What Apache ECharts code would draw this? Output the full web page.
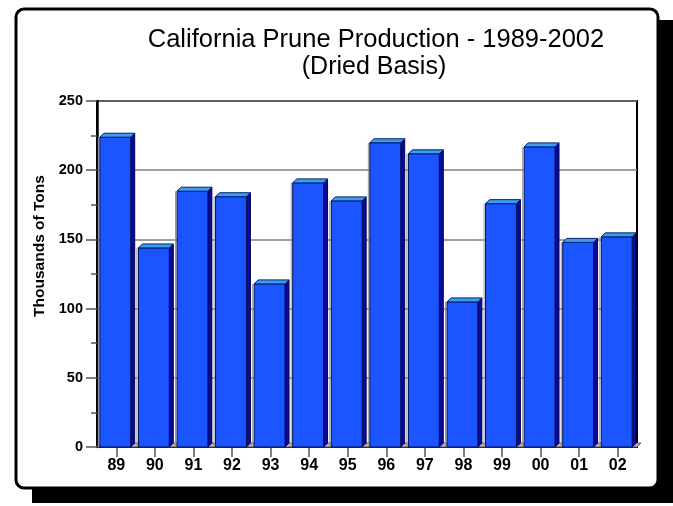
<!DOCTYPE html>
<html><head><meta charset="utf-8">
<script src="https://cdn.jsdelivr.net/npm/echarts@6/dist/echarts.min.js"></script>
<style>html,body{margin:0;padding:0;background:#fff}#c{width:673px;height:506px}</style>
</head><body><div id="c"></div>
<script>
const categories = ['89','90','91','92','93','94','95','96','97','98','99','00','01','02'];
const production = [226,146,187,183,120,193,180,222,214,107,178,219,150,154];
const yTicks = [0,50,100,150,200,250];

const chart = echarts.init(document.getElementById('c'), null, {renderer:'canvas'});
const D = 4;
function renderBar(params, api){
  const i = api.value(0), v = api.value(1);
  const top = api.coord([i, v]);
  const base = api.coord([i, 0]);
  const band = api.size([1, 0])[0];
  const w = band * 0.8;
  const x0 = top[0] - w/2 - 1, x1 = x0 + w;
  const yt = top[1] + 3, yb = base[1];
  return {type:'group', children:[
    {type:'line', shape:{x1:x0-1.5, y1:yb-1, x2:x0-1.5, y2:yt}, style:{stroke:'#9a9a9a', lineWidth:1}},
    {type:'polygon', shape:{points:[[x1,yb],[x1+D,yb-D],[x1+D,yt-D],[x1,yt]]},
      style:{fill:'#0a0a9a', stroke:'#000050', lineWidth:1}},
    {type:'rect', shape:{x:x0, y:yt, width:w, height:yb-yt},
      style:{fill:'#1a55ff', stroke:'#00105a', lineWidth:1}},
    {type:'polygon', shape:{points:[[x0,yt],[x0+D,yt-D],[x1+D,yt-D],[x1,yt]]},
      style:{fill:'#3a9cf5', stroke:'#00206a', lineWidth:1}}
  ]};
}
function renderFloor(params, api){
  const a = api.coord([0,0]);
  const band = api.size([1,0])[0];
  const xl = a[0] - band/2, xr = xl + band*categories.length;
  const y = a[1];
  return {type:'polygon', shape:{points:[[xl,y],[xr,y],[xr+D,y-D],[xl+D,y-D]]},
    style:{fill:'#b0b0b0', stroke:'#606060', lineWidth:1}, z2:0};
}
const option = {
  animation:false,
  backgroundColor:'#fff',
  graphic:[
    {type:'rect', shape:{x:32,y:20,width:641,height:483}, style:{fill:'#000'}, z:-10},
    {type:'rect', shape:{x:16,y:9,width:642,height:479,r:8}, style:{fill:'#fff', stroke:'#000', lineWidth:3}, z:-9},
    {type:'text', x:40, y:246, rotation:Math.PI/2, z:5,
     style:{text:'Thousands of Tons', fontFamily:'Liberation Sans, Arial', fontSize:15.5, fontWeight:'bold',
       fill:'#000', align:'center', verticalAlign:'middle'}}
  ],
  title:[
    {text:'California Prune Production - 1989-2002', left:371, top:22, textAlign:'center',
     textStyle:{fontFamily:'Liberation Sans, Arial', fontSize:25.5, fontWeight:'normal', color:'#000'}},
    {text:'(Dried Basis)', left:369, top:50, textAlign:'center',
     textStyle:{fontFamily:'Liberation Sans, Arial', fontSize:25, fontWeight:'normal', color:'#000'}}
  ],
  grid:{left:97, right:36, top:101, bottom:59, show:true, borderColor:'#000', borderWidth:2, backgroundColor:'transparent'},
  xAxis:{type:'category', data:categories,
    axisLine:{lineStyle:{color:'#000', width:2}},
    axisTick:{show:true, alignWithLabel:true, length:10, lineStyle:{color:'#555', width:1.5}},
    axisLabel:{fontFamily:'Liberation Sans, Arial', fontSize:16, fontWeight:'bold', color:'#000', margin:11},
    splitLine:{show:false}},
  yAxis:{type:'value', min:0, max:250, interval:50,
    axisLine:{show:true, lineStyle:{color:'#000', width:2.5}},
    axisTick:{show:true, length:11, lineStyle:{color:'#555', width:1.5}},
    minorTick:{show:true, splitNumber:2, length:6, lineStyle:{color:'#555', width:1.5}},
    axisLabel:{fontFamily:'Liberation Sans, Arial', fontSize:14.5, fontWeight:'bold', color:'#000', margin:14,
      formatter:function(v){return yTicks.indexOf(v)>=0 ? String(v) : '';}},
    splitLine:{show:true, lineStyle:{color:'#808080', width:1.5}}},
  series:[
    {type:'custom', renderItem:renderFloor, data:[[0,0]], z:1, silent:true},
    {type:'custom', renderItem:renderBar, data:production.map((v,i)=>[i,v]), z:2,
     encode:{x:0, y:1}}
  ]
};
chart.setOption(option);
</script></body></html>
